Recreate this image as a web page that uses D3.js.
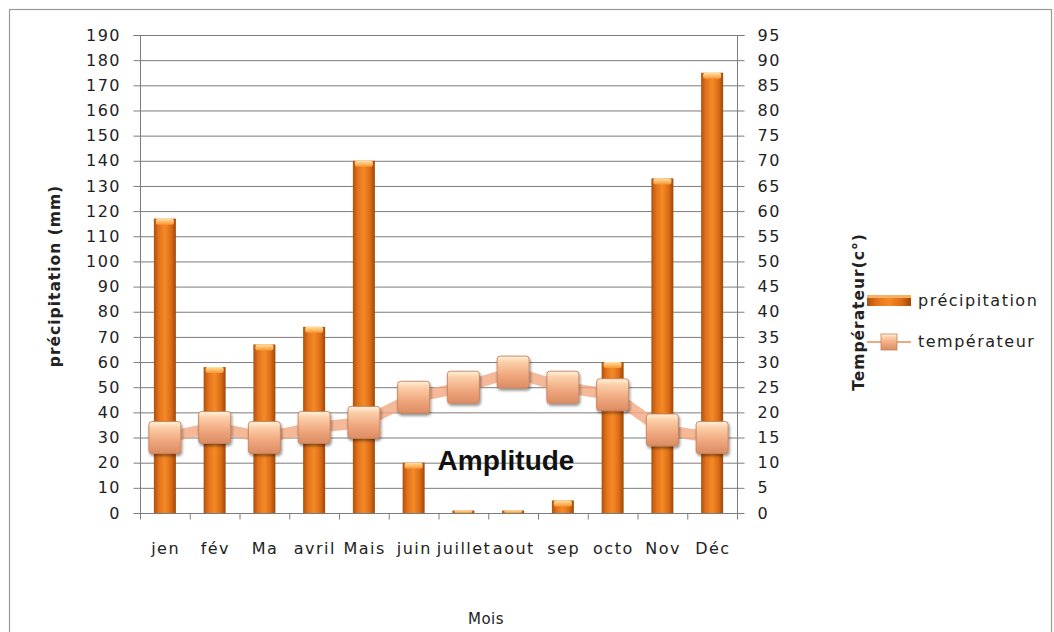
<!DOCTYPE html>
<html><head><meta charset="utf-8">
<script src="https://cdn.jsdelivr.net/npm/d3@7/dist/d3.min.js"></script>
<style>body{margin:0;background:#fff}svg{display:block}</style>
</head><body>
<svg id="c" width="1054" height="632"></svg>
<script>
const months = ["jen","fév","Ma","avril","Mais","juin","juillet","aout","sep","octo","Nov","Déc"];
const precipitation = [117,58,67,74,140,20,1,1,5,60,133,175];
const temperature = [15,17,15,17,18,23,25,28,25,23.5,16.5,15];
const leftTicks = d3.range(0,191,10);
const rightTicks = d3.range(0,96,5);

const svg = d3.select("#c");
const defs = svg.append("defs");
const m = {l:140, r:737, t:35, b:513};
const FONT = "'DejaVu Sans'";

// outer border
svg.append("rect").attr("x",9.5).attr("y",9.5).attr("width",1042).attr("height",640)
  .attr("fill","#fff").attr("stroke","#999").attr("stroke-width",1.2);

const x = d3.scaleBand().domain(months).range([m.l,m.r]).padding(0);
const yL = d3.scaleLinear().domain([0,190]).range([m.b,m.t]);
const yR = d3.scaleLinear().domain([0,95]).range([m.b,m.t]);

// gradients
const bg = defs.append("linearGradient").attr("id","barG").attr("x1","0").attr("x2","1").attr("y1","0").attr("y2","0");
[[0,"#ad500e"],[0.22,"#e3721b"],[0.5,"#f48a26"],[0.78,"#dd6c17"],[1,"#9e480a"]].forEach(s=>bg.append("stop").attr("offset",s[0]).attr("stop-color",s[1]));
const cap = defs.append("linearGradient").attr("id","capG").attr("x1","0").attr("x2","0").attr("y1","0").attr("y2","1");
[[0,"#ffe2a6"],[1,"#f8962e"]].forEach(s=>cap.append("stop").attr("offset",s[0]).attr("stop-color",s[1]));
const mg = defs.append("linearGradient").attr("id","mkG").attr("x1","0").attr("x2","0").attr("y1","0").attr("y2","1");
[[0,"#fff3dc"],[0.18,"#fcd0aa"],[0.6,"#efa77e"],[1,"#dc8c62"]].forEach(s=>mg.append("stop").attr("offset",s[0]).attr("stop-color",s[1]));
const f = defs.append("filter").attr("id","sh").attr("x","-30%").attr("y","-30%").attr("width","160%").attr("height","160%");
f.append("feGaussianBlur").attr("in","SourceAlpha").attr("stdDeviation",1.5);
f.append("feOffset").attr("dx",1).attr("dy",2).attr("result","o");
f.append("feComponentTransfer").append("feFuncA").attr("type","linear").attr("slope",0.45);
const mgm = f.append("feMerge"); mgm.append("feMergeNode"); mgm.append("feMergeNode").attr("in","SourceGraphic");

// gridlines
svg.append("g").selectAll("line").data(leftTicks).join("line")
  .attr("x1",m.l).attr("x2",m.r).attr("y1",d=>yL(d)+0.5).attr("y2",d=>yL(d)+0.5)
  .attr("stroke","#7c7c7c").attr("stroke-width",1);

// axes
const axL = svg.append("g").attr("transform",`translate(${m.l+0.5},0)`)
  .call(d3.axisLeft(yL).tickValues(leftTicks).tickSize(7).tickPadding(14));
const axR = svg.append("g").attr("transform",`translate(${m.r+0.5},0)`)
  .call(d3.axisRight(yR).tickValues(rightTicks).tickSize(7).tickPadding(13));
axL.select(".domain").attr("stroke","#7c7c7c").attr("d",`M-7,${m.t+0.5}H0V${m.b+0.5}`);
axR.select(".domain").attr("stroke","#7c7c7c").attr("d",`M7,${m.t+0.5}H0V${m.b+0.5}`);
[axL,axR].forEach(a=>{
  a.selectAll(".tick line").attr("stroke","#7c7c7c");
  a.selectAll(".tick text").attr("fill","#222").style("font-family",FONT).style("font-size","16px").style("letter-spacing","1.5px");
});
axR.selectAll(".tick text").attr("text-anchor","start");
axL.selectAll(".tick text").attr("dx","1.5");

// x axis
const axB = svg.append("g").attr("transform",`translate(0,${m.b+0.5})`);
axB.append("line").attr("x1",m.l).attr("x2",m.r).attr("stroke","#7c7c7c");
axB.selectAll("line.t").data(d3.range(months.length+1)).join("line")
  .attr("x1",i=>m.l+i*x.bandwidth()+0.5).attr("x2",i=>m.l+i*x.bandwidth()+0.5)
  .attr("y1",0).attr("y2",6).attr("stroke","#7c7c7c");
svg.selectAll("text.xl").data(months).join("text")
  .attr("x",d=>x(d)+x.bandwidth()/2+0.75).attr("y",554).attr("text-anchor","middle")
  .style("font-family",FONT).style("font-size","16px").style("letter-spacing","1.5px").attr("fill","#222").text(d=>d);

// bars
const bw = 22;
const bars = svg.append("g").selectAll("g").data(months.map((mo,i)=>({mo,v:precipitation[i]}))).join("g");
bars.append("rect").attr("x",d=>x(d.mo)+x.bandwidth()/2-bw/2).attr("width",bw)
  .attr("y",d=>yL(d.v)).attr("height",d=>m.b-yL(d.v)).attr("fill","url(#barG)");
bars.append("rect").attr("x",d=>x(d.mo)+x.bandwidth()/2-bw/2+2).attr("width",bw-4)
  .attr("y",d=>yL(d.v)).attr("height",d=>Math.min(6,m.b-yL(d.v))).attr("fill","url(#capG)").attr("rx",2);

// temperature line
const line = d3.line().x((d,i)=>x(months[i])+x.bandwidth()/2).y(d=>yR(d));
svg.append("path").datum(temperature).attr("d",line).attr("fill","none")
  .attr("stroke","#f2a880").attr("stroke-opacity",0.8).attr("stroke-width",11).attr("stroke-linejoin","round");

// markers
const ms = 32;
svg.append("g").selectAll("rect").data(temperature).join("rect")
  .attr("x",(d,i)=>x(months[i])+x.bandwidth()/2-ms/2).attr("y",d=>yR(d)-ms/2)
  .attr("width",ms).attr("height",ms).attr("rx",3)
  .attr("fill","url(#mkG)").attr("stroke","#c3835f").attr("stroke-width",0.9).attr("filter","url(#sh)");

// Amplitude
svg.append("text").attr("x",506).attr("y",470).attr("text-anchor","middle")
  .style("font-family","'Liberation Sans', Arial").style("font-weight","bold").style("font-size","28px")
  .attr("fill","#111").text("Amplitude");

// axis titles
svg.append("text").attr("transform","translate(60,276) rotate(-90)").attr("text-anchor","middle")
  .style("font-family",FONT).style("font-weight","bold").style("font-size","15.5px").style("letter-spacing","1px").attr("fill","#222")
  .text("précipitation (mm)");
svg.append("text").attr("transform","translate(864,312) rotate(-90)").attr("text-anchor","middle")
  .style("font-family",FONT).style("font-weight","bold").style("font-size","15.5px").style("letter-spacing","1px").attr("fill","#222")
  .text("Températeur(c°)");
svg.append("text").attr("x",486).attr("y",624).attr("text-anchor","middle")
  .style("font-family",FONT).style("font-size","15px").style("letter-spacing","0.5px").attr("fill","#222")
  .text("Mois");

// legend
const lg = svg.append("g");
lg.append("rect").attr("x",867).attr("y",295).attr("width",44).attr("height",11).attr("fill","url(#barG)");
lg.append("rect").attr("x",867).attr("y",295).attr("width",44).attr("height",3).attr("fill","#f9b060");
lg.append("text").attr("x",918).attr("y",306).style("font-family",FONT).style("font-size","16px").style("letter-spacing","1.5px").attr("fill","#222").text("précipitation");
lg.append("line").attr("x1",867).attr("x2",911).attr("y1",342).attr("y2",342).attr("stroke","#f0a882").attr("stroke-width",2);
lg.append("rect").attr("x",881).attr("y",334).attr("width",16).attr("height",16).attr("fill","url(#mkG)").attr("stroke","#c3835f").attr("stroke-width",0.8);
lg.append("text").attr("x",918).attr("y",347).style("font-family",FONT).style("font-size","16px").style("letter-spacing","1.5px").attr("fill","#222").text("températeur");
</script>
</body></html>
